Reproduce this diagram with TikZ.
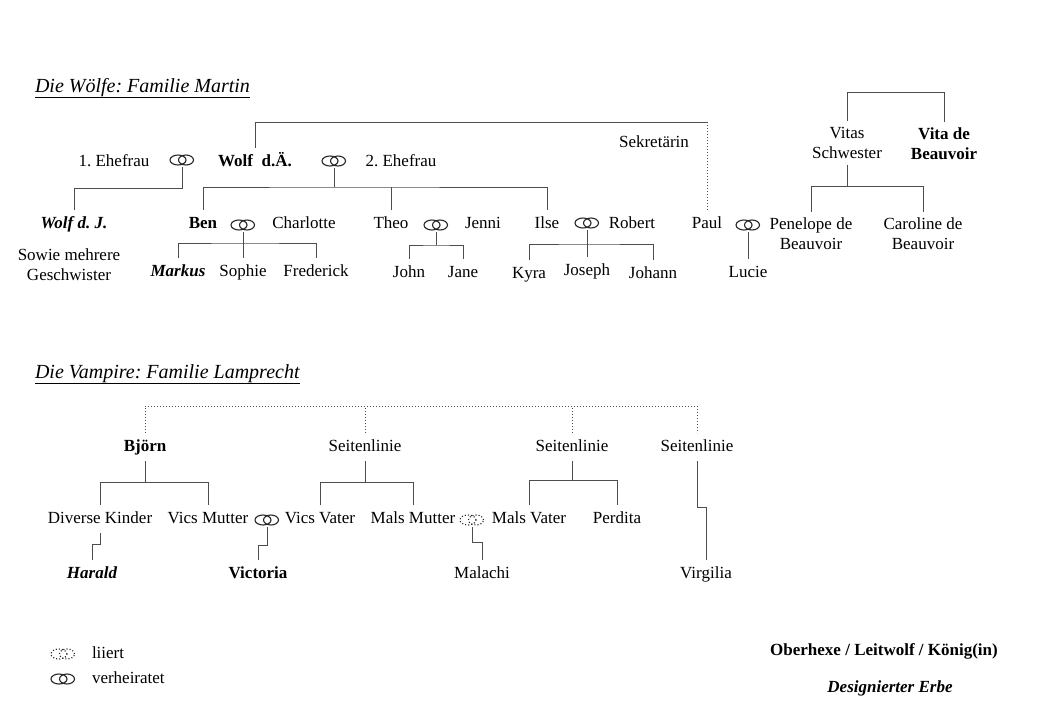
\documentclass[tikz,border=0pt]{standalone}
\usepackage{fontspec}
\setmainfont{Liberation Serif}
\usepackage{xcolor}
\usetikzlibrary{positioning}

\definecolor{linie}{HTML}{4D4D4D}
\frenchspacing

\begin{document}
\begin{tikzpicture}[x=1pt,y=-1pt,
    every node/.style={font=\fontsize{17}{20}\selectfont, inner sep=2pt, outer sep=4pt},
    person/.style={text height=12pt, text depth=3.7pt},
    zwei/.style={align=center},
    chef/.style={font=\fontsize{17}{20}\selectfont\bfseries},
    erbe/.style={font=\fontsize{17}{20}\selectfont\bfseries\itshape},
    titel/.style={font=\fontsize{20}{24}\selectfont\itshape, anchor=base west, inner sep=0pt, outer sep=0pt},
    verb/.style={draw=linie, line width=1pt},
    ring/.style={minimum width=28pt, minimum height=14pt, inner sep=0pt, outer sep=0pt,
        path picture={
            \draw[black!85, line width=1.1pt, #1] ([xshift=-4pt]path picture bounding box.center) ellipse [x radius=8pt, y radius=5pt];
            \draw[black!85, line width=1.1pt, #1] ([xshift=4pt]path picture bounding box.center) ellipse [x radius=7.5pt, y radius=5pt];
        }},
    ring/.default=solid
]
\useasboundingbox[fill=white] (0,0) rectangle (1040,720);

% Wölfe
\node[titel] (titelwoelfe) at (35,92) {\underline{Die Wölfe: Familie Martin}};

\node[person] (ehefrau1) at (114,162) {1. Ehefrau};
\node[ring] (r1) at (182,160) {};
\node[person,chef] (wolfae) at (255,162) {Wolf\ \ d.Ä.};
\node[ring] (r2) at (334,161) {};
\node[person] (ehefrau2) at (401,162) {2. Ehefrau};
\node[person] (sekretaerin) at (654,143) {Sekretärin};
\node[zwei] (vitaschwester) at (847,143) {Vitas\\Schwester};
\node[zwei,chef] (vita) at (944,144) {Vita de\\Beauvoir};

\node[person,erbe] (wolfdj) at (74,224) {Wolf d. J.};
\node[zwei] (geschwister) at (69,265) {Sowie mehrere\\Geschwister};
\node[person,chef] (ben) at (203,224) {Ben};
\node[ring] (r3) at (243,225) {};
\node[person] (charlotte) at (304,224) {Charlotte};
\node[person] (theo) at (391,224) {Theo};
\node[ring] (r4) at (436,225) {};
\node[person] (jenni) at (483,224) {Jenni};
\node[person] (ilse) at (547,224) {Ilse};
\node[ring] (r5) at (587,223) {};
\node[person] (robert) at (632,224) {Robert};
\node[person] (paul) at (707,224) {Paul};
\node[ring] (r6) at (748,225) {};
\node[zwei] (penelope) at (811,234) {Penelope de\\Beauvoir};
\node[zwei] (caroline) at (923,234) {Caroline de\\Beauvoir};

\node[person,erbe] (markus) at (178,272) {Markus};
\node[person] (sophie) at (243,272) {Sophie};
\node[person] (frederick) at (316,272) {Frederick};
\node[person] (john) at (409,273) {John};
\node[person] (jane) at (463,273) {Jane};
\node[person] (kyra) at (529,274) {Kyra};
\node[person] (joseph) at (587,271) {Joseph};
\node[person] (johann) at (653,274) {Johann};
\node[person] (lucie) at (748,273) {Lucie};

\draw[verb] (r1.south) -- ++(0,21) -| (wolfdj.north);
\draw[verb] (r2.south) -- ++(0,19) coordinate (k2);
\draw[verb] (ben.north) |- (k2) -| (ilse.north);
\draw[verb] (theo.north) -- (theo.north |- k2);
\draw[verb] (wolfae.north) -- ++(0,-26) coordinate (w0) -- (w0 -| paul.north) coordinate (sek);
\draw[verb, dotted] (sek) -- (paul.north);

\draw[verb] (r3.south) -- ++(0,11) coordinate (k3);
\draw[verb] (markus.north) |- (k3) -| (frederick.north);
\draw[verb] (r3.south) -- (sophie.north);
\draw[verb] (r4.south) -- ++(0,13) coordinate (k4);
\draw[verb] (john.north) |- (k4) -| (jane.north);
\draw[verb] (r5.south) -- ++(0,14) coordinate (k5);
\draw[verb] (kyra.north) |- (k5) -| (johann.north);
\draw[verb] (r5.south) -- (joseph.north);
\draw[verb] (r6.south) -- (lucie.north);

\draw[verb] (vitaschwester.north) -- ++(0,-29) -| (vita.north);
\draw[verb] (vitaschwester.south) -- ++(0,22) coordinate (k7);
\draw[verb] (penelope.north) |- (k7) -| (caroline.north);

% Vampire
\node[titel] (titelvampire) at (35,378) {\underline{Die Vampire: Familie Lamprecht}};

\node[person,chef] (bjoern) at (145,447) {Björn};
\node[person] (seite1) at (365,447) {Seitenlinie};
\node[person] (seite2) at (572,447) {Seitenlinie};
\node[person] (seite3) at (697,447) {Seitenlinie};

\node[person] (diverse) at (100,519) {Diverse Kinder};
\node[person] (vicsmutter) at (208,519) {Vics Mutter};
\node[ring] (r7) at (267,520) {};
\node[person] (vicsvater) at (320,519) {Vics Vater};
\node[person] (malsmutter) at (413,519) {Mals Mutter};
\node[ring=dotted] (r8) at (472,520) {};
\node[person] (malsvater) at (529,519) {Mals Vater};
\node[person] (perdita) at (617,519) {Perdita};

\node[person,erbe] (harald) at (92,574) {Harald};
\node[person,chef] (victoria) at (258,574) {Victoria};
\node[person] (malachi) at (482,574) {Malachi};
\node[person] (virgilia) at (706,574) {Virgilia};

\draw[verb, dotted] (bjoern.north) -- ++(0,-27) coordinate (v0) -- (v0 -| seite3.north) -- (seite3.north);
\draw[verb, dotted] (seite1.north) -- (seite1.north |- v0);
\draw[verb, dotted] (seite2.north) -- (seite2.north |- v0);

\draw[verb] (bjoern.south) -- ++(0,22) coordinate (k8);
\draw[verb] (diverse.north) |- (k8) -| (vicsmutter.north);
\draw[verb] (seite1.south) -- ++(0,22) coordinate (k9);
\draw[verb] (vicsvater.north) |- (k9) -| (malsmutter.north);
\draw[verb] (seite2.south) -- ++(0,20) coordinate (k10);
\draw[verb] (malsvater.north) |- (k10) -| (perdita.north);
\draw[verb] (seite3.south) -- ++(0,47) -| (virgilia.north);

\draw[verb] (diverse.south) -- ++(0,12) -| (harald.north);
\draw[verb] (r7.south) -- ++(0,18) -| (victoria.north);
\draw[verb] (r8.south) -- ++(0,15) -| (malachi.north);

% Legende
\node[ring=dotted] (legliiert) at (63,654) {};
\node[person, right=9pt of legliiert] (txtliiert) {liiert};
\node[ring] (legverh) at (63,679) {};
\node[person, right=9pt of legverh] (txtverh) {verheiratet};
\node[chef] (oberhexe) at (884,651) {Oberhexe / Leitwolf / König(in)};
\node[erbe] (erbe) at (890,688) {Designierter Erbe};
\end{tikzpicture}
\end{document}
